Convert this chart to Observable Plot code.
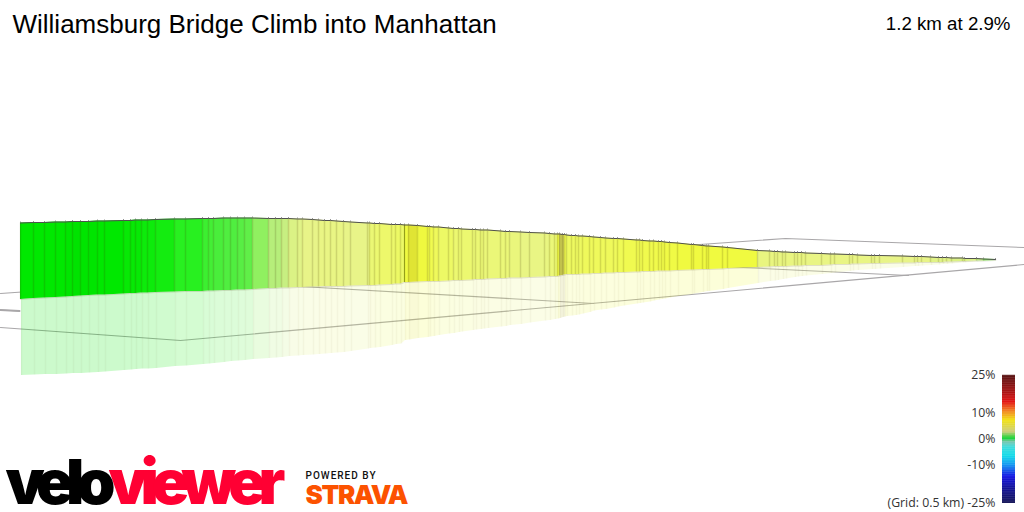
<!DOCTYPE html>
<html>
<head>
<meta charset="utf-8">
<style>html,body{margin:0;padding:0;background:#fff;overflow:hidden}svg{display:block}</style>
<script src="https://cdn.jsdelivr.net/npm/d3@7"></script>
<script src="https://cdn.jsdelivr.net/npm/@observablehq/plot@0.6"></script>
</head>
<body>
<script>
// Section boundaries of the projected climb profile
const boundaryX = [
20,33,44,55,65,72,80,88,97,104,
123,130,135,141,147,155,174,185,202,208,
213,223,230,237,244,252,268,275,281,288,
297,302,312,318,324,330,336,343,350,367,
369,374,379,391,395,400,404,408,417,427,
429,433,438,448,453,458,461,472,475,480,
483,487,500,505,509,520,529,544,549,554,
557,559,562,564,566,571,575,578,582,589,
593,600,605,613,617,623,636,639,642,649,
653,658,661,664,669,677,691,693,702,706,
708,722,727,757,769,774,777,782,785,794,
797,801,805,821,830,834,849,852,857,871,
874,879,902,914,917,921,930,938,942,946,
951,962,964,976,983,995];
const roadLevel = [
222.5,222,222,221.5,221.5,221,221,221,220.5,220.5,
220,220,219.5,219.5,219.5,219,218.5,218.5,218,218,
218,217.5,217.5,217.5,217.5,217.5,218,218,218,218,
218.5,218.5,219,219.5,220,220,220.5,221,221.5,222.5,
222.5,223,223,224,224,224,224.5,224.5,225,226,
226,226.5,226.5,227.5,228,228,228.5,229,229,229.5,
229.5,229.5,230.5,231,231,231.5,232,232.5,233,233.5,
233.5,233.5,234,234,234.5,235,235,235.5,235.5,236,
236.5,237,237.5,238,238,238.5,239.5,239.5,240,240.5,
240.5,241,241,241.5,242,242.5,244,244,245,245.5,
245.5,246.5,247,250,250.5,251,251,251.5,251.5,252,
252,252,252.5,253,253.5,253.5,254,254,254.5,255,
255,255,255.5,256,256,256,256.5,257,257,257,
257.5,257.5,258,258,258.5,259];
const baseLevel = [
299,298,297.5,297,296.5,296,295.5,295,294.5,294.5,
293.5,293,293,292.5,292.5,292,291.5,291,291,290.5,
290.5,290,290,289.5,289.5,289,288,288,287.5,287.5,
287,287,286.5,286.5,286,286,286,286,285.5,285,
285,285,284.5,284,283.5,283.5,282,282,281.5,281,
281,281,281,280.5,280,280,280,279.5,279,279,
279,278.5,278,278,277.5,277.5,277,276.5,276,276,
276,275.5,275,274.5,274,274,274,274,273.5,273.5,
273,273,272.5,272.5,272,272,271.5,271.5,271,271,
271,270.5,270.5,270.5,270.5,270,269.5,269.5,269,269,
269,268.5,268,267,266.5,266,266,266,266,265.5,
265.5,265.5,265,265,264.5,264,264,263.5,263.5,263,
263,263,262.5,262.5,262,262,262,262,262,261.5,
261.5,261,261,260.5,260.5,260];
const shadowLevel = [
375,374.5,374,374,373.5,373,373,372.5,372,371.5,
370,369.5,369,368.5,368.5,368,366,365.5,364,363.5,
363,362,361,360.5,360,359,358,357.5,357,356,
355.5,355,354.5,354,353.5,353,352.5,352,351,348.5,
348,347.5,347,345,344,343.5,340,339.5,338,337,
336.5,336,335,333.5,333,332,331.5,330,329.5,329,
328.5,328,326.5,326,325,324,322.5,320.5,320,319,
318.5,318,317,316.5,316,315.5,315,314.5,313.5,312,
310.5,309.5,309,307.5,306.5,305.5,303.5,303,302.5,301.5,
300.5,299.5,299,298.5,297.5,296,294,293.5,292,291,
291,289,288,283,281,280.5,280,279,278.5,277,
276.5,276,275.5,274,273,272.5,271,270.5,270,269,
269,268.5,267,266,266,265.5,265,264.5,264,264,
263.5,262.5,262.5,261.5,261,260.5];
// Apparent gradient (%) of each section
const sectionGrade = [
.3,.3,.3,.3,.2,.1,.2,.2,.3,.3,
.35,.35,.35,.4,.4,.45,.6,.6,.75,.8,
.85,.9,.9,.95,1,1.3,1.7,1.7,1.9,2.2,
2.3,2.4,2.4,2.5,2.5,2.5,2.5,2.4,2.4,2.5,
2.9,3,3.1,3.1,3.2,3.2,4.2,5.5,4.3,4,
3.6,3.4,3.2,3.2,3,3,3,2.9,2.9,2.9,
2.8,2.8,2.8,2.8,2.7,2.5,2.5,2.6,2.8,3,
4,7,7,3.6,3.3,3.3,3.3,3.3,3.4,3.4,
3.4,3.4,3.4,3.4,3.5,3.6,3.6,3.6,3.7,3.7,
3.8,3.8,3.9,4,4,4.2,4.2,4.2,4.2,4.2,
4.2,4.2,4.2,2.6,2.6,2.6,2.6,2.6,2.6,2.6,
2.6,2.6,2.5,2.5,2.5,2.5,2.5,2.5,2.5,2.5,
2.4,2.4,2.4,2.4,2.4,2.4,2.3,2.3,2.3,2.3,
2.2,2.2,2.2,1.8,1.2];
// Colours the sections show
const rampGrades  = [0,.3,.6,.9,1.3,1.8,2.4,3,3.6,4.2,5.5,7];
const rampColours = ["#00e000","#00e800","#28f020","#50ee40","#90f060","#c0ee80","#e8f488","#ecf870","#f0fa50","#f0fa40","#e0e434","#c8c850"];
// Legend bar
const legendGrades  = [-25,-19,-14.6,-10,-6.5,-3,-1,.4,2.9,7.4,11.3,14.6,19,25];
const legendColours = ["#00004a","#000090","#0000e0","#0090f0","#00d8e8","#30d8d8","#70c0a8","#00d020","#c8c870","#f0e000","#f07010","#e00000","#9a0000","#4a0000"];
const legendTicks = ["25%","10%","0%","-10%"];
const legendTickGrades = [25,10,0,-10];
const legendLast = "(Grid: 0.5 km) -25%";
// Ground grid polylines
const gridGroup = ["a","a","a","b","b","b","c","c","d","d","e","e"];
const gridX = [0,785,1024, 0,180,1024, 250,593, 680,908, 0,19];
const gridY = [293,238,247, 327,340,264, 283,303, 264,275, 309.5,310.5];
const strongBoundaries = [404];

const title = "Williamsburg Bridge Climb into Manhattan";
const summary = "1.2 km at 2.9%";

const sections = [];
sectionGrade.forEach((grade, i) => {
  [i, i + 1].forEach(j => sections.push({
    section: i, grade, x: boundaryX[j], top: roadLevel[j], base: baseLevel[j], shadow: shadowLevel[j]
  }));
});
const boundaries = boundaryX.map((x, i) => ({x, top: roadLevel[i], base: baseLevel[i], shadow: shadowLevel[i]}));
const grid = gridX.map((x, i) => ({x, y: gridY[i], g: gridGroup[i]}));

const legendColour = d3.scaleLinear().domain(legendGrades).range(legendColours);
const legendY = g => 439 - g * 2.56;
const legendCells = d3.range(-25, 25, 0.25).map(g => ({g}));
const legendLabels = legendTicks.map((t, i) => ({t, y: legendY(legendTickGrades[i]) + 3.5}));

const svg = Plot.plot({
  width: 1024, height: 512, margin: 0,
  style: {background: "#fff"},
  x: {domain: [0, 1024], axis: null},
  y: {domain: [512, 0], axis: null},
  color: {type: "linear", domain: rampGrades, range: rampColours, interpolate: "rgb"},
  marks: [
    Plot.line(grid, {x: "x", y: "y", z: "g", stroke: "#a9a7a9", strokeWidth: 1.1}),
    Plot.line(grid.filter(d => d.g === "e"), {x: "x", y: "y", stroke: "#a9a7a9", strokeWidth: 2}),
    // reflection on the ground
    Plot.area(sections, {x1: "x", y1: "base", y2: "shadow", z: "section", fill: "grade", fillOpacity: 0.2, dx: 1}),
    Plot.ruleX(boundaries, {x: "x", y1: "base", y2: "shadow", stroke: "#403000", strokeOpacity: 0.04, strokeWidth: 1.5, dx: 1}),
    // wall
    Plot.area(sections, {x1: "x", y1: "top", y2: "base", z: "section", fill: "grade"}),
    Plot.ruleX(boundaries, {x: "x", y1: "top", y2: "base", stroke: "#403000", strokeOpacity: 0.16, strokeWidth: 1.5}),
    Plot.ruleX(boundaries.filter(d => strongBoundaries.includes(d.x)), {x: "x", y1: "top", y2: "base", stroke: "#607000", strokeOpacity: 0.55}),
    Plot.line(boundaries, {x: "x", y: "base", stroke: "#403000", strokeOpacity: 0.14, strokeWidth: 1}),
    Plot.line(boundaries, {x: "x", y: "top", stroke: "#505050", strokeWidth: 1}),
    Plot.ruleX(boundaries, {x: "x", y1: d => d.top - 1, y2: "top", stroke: "#505050", strokeOpacity: 0.6, strokeWidth: 1}),
    // legend
    Plot.rect(legendCells, {
      x1: () => 1002, x2: () => 1015,
      y1: d => legendY(d.g), y2: d => legendY(d.g + 0.25) - 0.2,
      fill: {value: d => legendColour(d.g + 0.125), scale: null}
    }),
    Plot.text(legendLabels, {x: () => 995, y: "y", text: "t", textAnchor: "end", lineAnchor: "bottom", fontSize: 12.3, fontFamily: "Open Sans", fill: "#333"}),
    Plot.text([legendLast], {x: () => 995, y: () => 506.5, text: d => d, textAnchor: "end", lineAnchor: "bottom", fontSize: 12.3, fontFamily: "Open Sans", fill: "#333"}),
    // headings
    Plot.text([title], {x: () => 12, y: () => 32, text: d => d, textAnchor: "start", lineAnchor: "bottom", fontSize: 26, fontFamily: "Liberation Sans", fill: "#000"}),
    Plot.text([summary], {x: () => 1010, y: () => 29, text: d => d, textAnchor: "end", lineAnchor: "bottom", fontSize: 18.7, fontFamily: "Liberation Sans", fill: "#000"}),
    // logos
    Plot.text(["viewer"], {x: () => 108, y: () => 503, text: d => d, textAnchor: "start", lineAnchor: "bottom", fontSize: 62, fontWeight: 900, fontFamily: "Inter", fill: "#ff0033"}),
    Plot.text(["velo"], {x: () => 5, y: () => 503, text: d => d, textAnchor: "start", lineAnchor: "bottom", fontSize: 62, fontWeight: 900, fontFamily: "Inter", fill: "#000"}),
    Plot.text(["POWERED BY"], {x: () => 305, y: () => 478, text: d => d, textAnchor: "start", lineAnchor: "bottom", fontSize: 10, fontWeight: 500, fontFamily: "Roboto", fill: "#111"}),
    Plot.text(["STRAVA"], {x: () => 305, y: () => 503, text: d => d, textAnchor: "start", lineAnchor: "bottom", fontSize: 26, fontWeight: 900, fontFamily: "Inter", fill: "#fc5200"})
  ]
});
const fit = {"velo": 110, "viewer": 177, "POWERED BY": 70, "STRAVA": 103};
d3.select(svg).selectAll("text").each(function() {
  const w = fit[this.textContent.trim()];
  if (w) { this.setAttribute("textLength", w); this.setAttribute("lengthAdjust", "spacing"); }
});
document.body.appendChild(svg);
</script>
</body>
</html>
